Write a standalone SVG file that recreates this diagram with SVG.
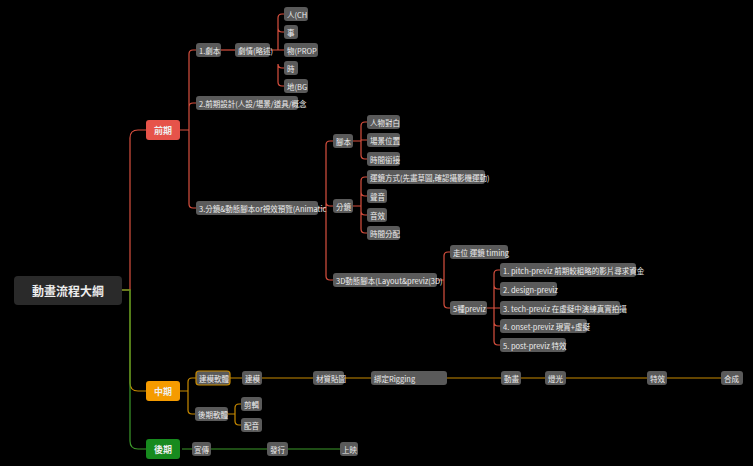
<svg xmlns="http://www.w3.org/2000/svg" width="753" height="466" viewBox="0 0 753 466">
<style>
text{font-family:"Noto Sans CJK TC","Noto Sans",sans-serif;fill:#eee;font-size:7.5px;dominant-baseline:central}
.n rect{fill:#5a5a5a;rx:3}
.c path{fill:none;stroke-width:1.2}
.r{stroke:#d9503f}.o{stroke:#c88a00}.g{stroke:#3d9a2b}
</style>
<rect width="753" height="466" fill="#000"/>
<g class="c">
<path class="r" d="M122 290 H130 V138 Q130 130 138 130 H146"/>
<path class="o" d="M122 290 H130 V383 Q130 391 138 391 H146"/>
<path class="g" d="M122 290 H130 V441 Q130 449 138 449 H146"/>
<path class="r" d="M180 130 H189 V54 Q189 50 193 50 H196 M189 107 Q189 103 193 103 H196 M189 204 Q189 208 193 208 H196 M189 126 V204"/>
<path class="r" d="M221 50 H235"/>
<path class="r" d="M270 50 H278 V18 Q278 14 282 14 H284 M278 28 Q278 32 282 32 H284 M278 50 H284 M278 64 Q278 68 282 68 H284 M278 82 Q278 86 282 86 H284 M278 64 V82 M278 28 V50"/>
<path class="r" d="M318 208 H326 V145 Q326 141 330 141 H333 M326 202 Q326 206 330 206 H333 M326 276 Q326 280 330 280 H333 M326 200 V276"/>
<path class="r" d="M353 141 H361 V126 Q361 122 365 122 H367 M361 140 H367 M361 141 V155 Q361 159 365 159 H367"/>
<path class="r" d="M353 206 H361 V181 Q361 177 365 177 H367 M361 192 Q361 196 365 196 H367 M361 211 Q361 215 365 215 H367 M361 229 Q361 233 365 233 H367 M361 192 V229"/>
<path class="r" d="M437 280 H444 V256 Q444 252 448 252 H450 M444 280 V304 Q444 308 448 308 H450"/>
<path class="r" d="M487 308 H494 V274 Q494 270 498 270 H500 M494 285 Q494 289 498 289 H500 M494 308 H500 M494 322 Q494 326 498 326 H500 M494 341 Q494 345 498 345 H500 M494 285 V341"/>
<path class="o" d="M180 391 H188 V382 Q188 378 192 378 H196 M188 391 V410 Q188 414 192 414 H195"/>
<path class="o" d="M230 378 H242 M262 378 H721"/>
<path class="o" d="M228 414 H235 V408 Q235 404 239 404 H241 M235 414 V421 Q235 425 239 425 H241"/>
<path class="g" d="M182 449 H340"/>
</g>
<g id="root"><rect x="14" y="276" width="108" height="29" rx="4" fill="#2a2a2a"/><text x="68" y="290.5" text-anchor="middle" style="font-size:12px;font-weight:bold">動畫流程大綱</text></g>
<g id="qianqi"><rect x="146" y="120" width="34" height="20" rx="3" fill="#e6534a"/><text x="163" y="130" text-anchor="middle" style="font-size:9px;font-weight:bold">前期</text></g>
<g id="zhongqi"><rect x="146" y="381" width="34" height="20" rx="3" fill="#f59b00"/><text x="163" y="391" text-anchor="middle" style="font-size:9px;font-weight:bold">中期</text></g>
<g id="houqi"><rect x="146" y="439" width="34" height="20" rx="3" fill="#178a1e"/><text x="163" y="449" text-anchor="middle" style="font-size:9px;font-weight:bold">後期</text></g>
<g class="n">
<g id="n1"><rect x="196" y="43" width="25" height="14"/><text x="199" y="50">1.劇本</text></g>
<g id="n2"><rect x="235" y="43" width="35" height="14"/><text x="238" y="50">劇情(略述)</text></g>
<g id="n3"><rect x="284" y="7" width="24" height="14"/><text x="287" y="14">人(CH</text></g>
<g id="n4"><rect x="284" y="25" width="14" height="14"/><text x="287" y="32">事</text></g>
<g id="n5"><rect x="284" y="43" width="34" height="14"/><text x="287" y="50">物(PROP</text></g>
<g id="n6"><rect x="284" y="61" width="14" height="14"/><text x="287" y="68">時</text></g>
<g id="n7"><rect x="284" y="79" width="24" height="14"/><text x="287" y="86">地(BG</text></g>
<g id="n8"><rect x="196" y="96" width="102" height="14"/><text x="199" y="103">2.前期設計(人設/場景/道具/概念</text></g>
<g id="n9"><rect x="196" y="201" width="122" height="14"/><text x="199" y="208">3.分鏡&amp;動態腳本or視效預覽(Animatic</text></g>
<g id="n10"><rect x="333" y="134" width="20" height="14"/><text x="336" y="141">腳本</text></g>
<g id="n11"><rect x="367" y="115" width="33" height="14"/><text x="370" y="122">人物對白</text></g>
<g id="n12"><rect x="367" y="133" width="33" height="14"/><text x="370" y="140">場景位置</text></g>
<g id="n13"><rect x="367" y="152" width="33" height="14"/><text x="370" y="159">時間銜接</text></g>
<g id="n14"><rect x="333" y="199" width="20" height="14"/><text x="336" y="206">分鏡</text></g>
<g id="n15"><rect x="367" y="170" width="118" height="14"/><text x="370" y="177">運鏡方式(先畫草圖,確認攝影機運動)</text></g>
<g id="n16"><rect x="367" y="189" width="20" height="14"/><text x="370" y="196">聲音</text></g>
<g id="n17"><rect x="367" y="208" width="20" height="14"/><text x="370" y="215">音效</text></g>
<g id="n18"><rect x="367" y="226" width="33" height="14"/><text x="370" y="233">時間分配</text></g>
<g id="n19"><rect x="333" y="273" width="104" height="14"/><text x="336" y="280">3D動態腳本(Layout&amp;previz(3D)</text></g>
<g id="n20"><rect x="450" y="245" width="58" height="14"/><text x="453" y="252">走位 運鏡 timing</text></g>
<g id="n21"><rect x="450" y="301" width="37" height="14"/><text x="453" y="308">5種previz</text></g>
<g id="n22"><rect x="500" y="263" width="136" height="14"/><text x="503" y="270">1. pitch-previz 前期較粗略的影片尋求資金</text></g>
<g id="n23"><rect x="500" y="282" width="57" height="14"/><text x="503" y="289">2. design-previz</text></g>
<g id="n24"><rect x="500" y="301" width="120" height="14"/><text x="503" y="308">3. tech-previz 在虛擬中演練真實拍攝</text></g>
<g id="n25"><rect x="500" y="319" width="87" height="14"/><text x="503" y="326">4. onset-previz 現實+虛擬</text></g>
<g id="n26"><rect x="500" y="338" width="66" height="14"/><text x="503" y="345">5. post-previz 特效</text></g>
<g id="n27"><rect x="196" y="371" width="34" height="14" style="stroke:#c88a00;stroke-width:1.2"/><text x="199" y="378">建模軟體</text></g>
<g id="n28"><rect x="242" y="371" width="20" height="14"/><text x="245" y="378">建模</text></g>
<g id="n29"><rect x="313" y="371" width="31" height="14"/><text x="316" y="378">材質貼圖</text></g>
<g id="n30"><rect x="371" y="371" width="76" height="14"/><text x="374" y="378">綁定Rigging</text></g>
<g id="n31"><rect x="501" y="371" width="20" height="14"/><text x="504" y="378">動畫</text></g>
<g id="n32"><rect x="545" y="371" width="21" height="14"/><text x="548" y="378">燈光</text></g>
<g id="n33"><rect x="647" y="371" width="20" height="14"/><text x="650" y="378">特效</text></g>
<g id="n34"><rect x="721" y="371" width="22" height="14"/><text x="724" y="378">合成</text></g>
<g id="n35"><rect x="195" y="407" width="33" height="14"/><text x="198" y="414">後期軟體</text></g>
<g id="n36"><rect x="241" y="397" width="21" height="14"/><text x="244" y="404">剪輯</text></g>
<g id="n37"><rect x="241" y="418" width="21" height="14"/><text x="244" y="425">配音</text></g>
<g id="n38"><rect x="192" y="442" width="19" height="14"/><text x="194" y="449">宣傳</text></g>
<g id="n39"><rect x="267" y="442" width="21" height="14"/><text x="270" y="449">發行</text></g>
<g id="n40"><rect x="340" y="442" width="18" height="14"/><text x="342" y="449">上映</text></g>
</g>
</svg>
